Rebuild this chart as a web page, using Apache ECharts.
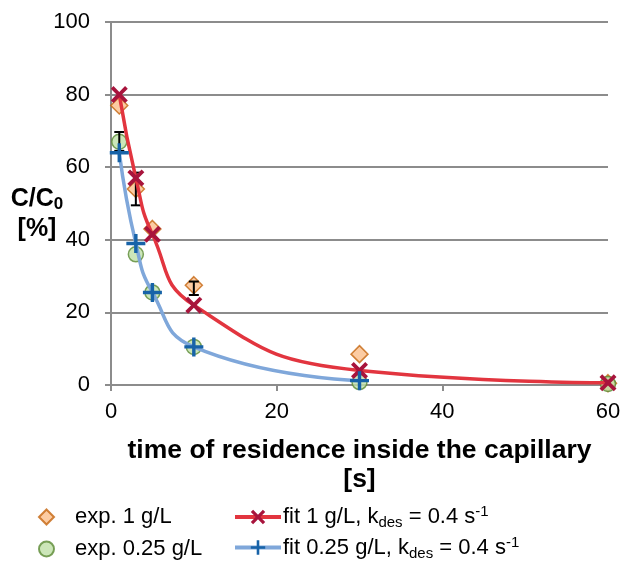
<!DOCTYPE html>
<html>
<head>
<meta charset="utf-8">
<script src="https://cdn.jsdelivr.net/npm/echarts@6/dist/echarts.min.js"></script>
<style>html,body{margin:0;padding:0;background:#fff;}#c{width:624px;height:567px;}</style>
</head>
<body>
<div id="c"></div>
<script>
// time of residence [s]
const timeExp = [1, 3, 5, 10, 30, 60];
const timeFit1 = [1, 3, 5, 10, 30, 60];
const timeFit025 = [1, 3, 5, 10, 30];
// C/C0 [%]
const exp1 = [77, 54, 43, 27.5, 8.5, 0.5];
const exp025 = [67, 36, 25.5, 10.5, 0.8, 0.3];
const fit1 = [80, 57, 41.5, 22, 4, 0.6];
const fit025 = [64, 39, 25.5, 10.5, 1.2];
// error bars [x, low, high]
const errExp1 = [[3, 49.5, 58.5], [10, 24.8, 28.5]];
const errExp025 = [[1, 64.5, 69.7]];
const yTicks = [0, 20, 40, 60, 80, 100];
const xTicks = [0, 20, 40, 60];

const F = 'Liberation Sans, Arial, sans-serif';
const pair = (xs, ys) => xs.map((x, i) => [x, ys[i]]);
const XPATH = 'path://M0,1.6 L1.6,0 L5,3.4 L8.4,0 L10,1.6 L6.6,5 L10,8.4 L8.4,10 L5,6.6 L1.6,10 L0,8.4 L3.4,5 Z';
const PLUS = 'path://M4.1,0 H5.9 V4.1 H10 V5.9 H5.9 V10 H4.1 V5.9 H0 V4.1 H4.1 Z';

function errRender(params, api) {
  const x = api.value(0), lo = api.value(1), hi = api.value(2);
  const pLo = api.coord([x, lo]), pHi = api.coord([x, hi]);
  const w = 5;
  const st = {stroke: '#000', lineWidth: 2};
  return {type: 'group', children: [
    {type: 'line', shape: {x1: pLo[0], y1: pLo[1], x2: pHi[0], y2: pHi[1]}, style: st},
    {type: 'line', shape: {x1: pLo[0]-w, y1: pLo[1], x2: pLo[0]+w, y2: pLo[1]}, style: st},
    {type: 'line', shape: {x1: pHi[0]-w, y1: pHi[1], x2: pHi[0]+w, y2: pHi[1]}, style: st}
  ]};
}

const rich = {
  n: {fontFamily: F, fontSize: 22, color: '#000'},
  sub: {fontFamily: F, fontSize: 15, color: '#000', padding: [12, 0, 0, 0]},
  sup: {fontFamily: F, fontSize: 15, color: '#000', padding: [0, 0, 10, 0]}
};

const chart = echarts.init(document.getElementById('c'));
chart.setOption({
  animation: false,
  grid: {left: 111, right: 16, top: 22, bottom: 182, containLabel: false, outerBoundsMode: 'none'},
  xAxis: {
    type: 'value', min: 0, max: 60, interval: 20,
    axisLine: {lineStyle: {color: '#8c8c8c', width: 2}},
    axisTick: {show: true, length: 6, lineStyle: {color: '#8c8c8c', width: 2}},
    axisLabel: {fontFamily: F, fontSize: 22, color: '#000', margin: 16,
      formatter: v => xTicks.includes(v) ? String(v) : ''},
    splitLine: {show: false},
    name: 'time of residence inside the capillary\n[s]',
    nameLocation: 'middle', nameGap: 51,
    nameTextStyle: {fontFamily: F, fontSize: 26.5, fontWeight: 'bold', color: '#000', lineHeight: 29}
  },
  yAxis: {
    type: 'value', min: 0, max: 100, interval: 20,
    axisLine: {show: true, lineStyle: {color: '#8c8c8c', width: 2}},
    axisTick: {show: true, length: 6, lineStyle: {color: '#8c8c8c', width: 2}},
    axisLabel: {fontFamily: F, fontSize: 22, color: '#000', margin: 21,
      formatter: v => yTicks.includes(v) ? String(v) : ''},
    splitLine: {show: true, lineStyle: {color: '#8c8c8c', width: 2}},
    name: '{b|C/C}{s|0}\n{b|[%]}',
    nameLocation: 'middle', nameRotate: 0, nameGap: 74, nameMoveOverlap: false,
    nameTextStyle: {
      align: 'center', padding: [22, 0, 0, 0],
      rich: {
        b: {fontFamily: F, fontSize: 25, fontWeight: 'bold', color: '#000', lineHeight: 30},
        s: {fontFamily: F, fontSize: 17, fontWeight: 'bold', color: '#000', padding: [10, 0, 0, 0]}
      }
    }
  },
  legend: [
    {
      orient: 'vertical', left: 33, top: 499, height: 80, itemWidth: 15, itemHeight: 15, itemGap: 6,
      data: ['exp. 1 g/L', 'exp. 0.25 g/L'],
      textStyle: {fontFamily: F, fontSize: 22, color: '#000', lineHeight: 26, padding: [0, 0, 0, 16]}
    },
    {
      orient: 'vertical', left: 228, top: 499, height: 80, itemWidth: 46, itemHeight: 18, itemGap: 4,
      lineStyle: {width: 4},
      data: ['fit 1 g/L', 'fit 0.25 g/L'],
      formatter: name => '{n|' + name + ', k}{sub|des}{n| = 0.4 s}{sup|-1}',
      textStyle: {fontFamily: F, fontSize: 22, color: '#000', lineHeight: 26, padding: [0, 0, 0, -3], rich: rich}
    }
  ],
  series: [
    {
      name: 'exp. 1 g/L', type: 'scatter', data: pair(timeExp, exp1),
      symbol: 'diamond', symbolSize: 17,
      itemStyle: {color: '#fbbf8c', borderColor: '#c4650f', borderWidth: 1.5}, z: 2
    },
    {
      name: 'exp. 0.25 g/L', type: 'scatter', data: pair(timeExp, exp025),
      symbol: 'circle', symbolSize: 15,
      itemStyle: {color: '#bfe0a8', borderColor: '#5b8a34', borderWidth: 1.5}, z: 2
    },
    {type: 'custom', renderItem: errRender, data: errExp1, z: 3},
    {type: 'custom', renderItem: errRender, data: errExp025, z: 3},
    {
      name: 'fit 1 g/L', type: 'line', data: pair(timeFit1, fit1),
      smooth: 0.5,
      symbol: XPATH, symbolSize: 17, showAllSymbol: true,
      lineStyle: {color: '#e2353f', width: 3.5},
      itemStyle: {color: '#a8143c', borderWidth: 0}, z: 4
    },
    {
      name: 'fit 0.25 g/L', type: 'line', data: pair(timeFit025, fit025),
      smooth: 0.5,
      symbol: PLUS, symbolSize: 19, showAllSymbol: true,
      lineStyle: {color: '#7fa7da', width: 3.5},
      itemStyle: {color: '#1763a8', borderWidth: 0}, z: 4
    }
  ]
});
</script>
</body>
</html>
